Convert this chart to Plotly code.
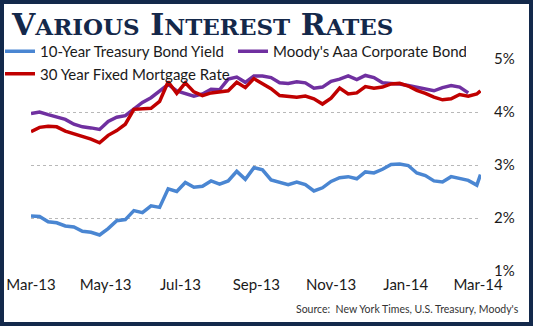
import datetime as dt
import plotly.graph_objects as go

start = dt.date(2013, 3, 1)
dates = [(start + dt.timedelta(weeks=i)).isoformat() for i in range(53)] + ["2014-03-03"]

treasury = [2.04, 2.03, 1.93, 1.91, 1.85, 1.83, 1.75, 1.73, 1.68, 1.80,
            1.95, 1.97, 2.14, 2.10, 2.23, 2.20, 2.55, 2.50, 2.67, 2.58,
            2.60, 2.70, 2.64, 2.70, 2.88, 2.73, 2.95, 2.91, 2.72, 2.67,
            2.63, 2.68, 2.63, 2.51, 2.57, 2.69, 2.76, 2.78, 2.74, 2.87,
            2.85, 2.92, 3.01, 3.02, 2.99, 2.85, 2.80, 2.70, 2.68, 2.78,
            2.75, 2.71, 2.62, 2.82]

moodys = [3.97, 4.00, 3.95, 3.90, 3.86, 3.77, 3.72, 3.70, 3.67, 3.82,
          3.90, 3.93, 4.06, 4.18, 4.27, 4.40, 4.52, 4.40, 4.35, 4.30,
          4.34, 4.43, 4.42, 4.62, 4.66, 4.56, 4.68, 4.68, 4.65, 4.55,
          4.54, 4.57, 4.55, 4.45, 4.47, 4.58, 4.62, 4.68, 4.61, 4.69,
          4.65, 4.55, 4.54, 4.53, 4.50, 4.47, 4.44, 4.40, 4.46, 4.50,
          4.47, 4.36]

mortgage = [3.63, 3.71, 3.73, 3.72, 3.64, 3.59, 3.55, 3.49, 3.42, 3.56,
            3.65, 3.77, 4.05, 4.06, 4.07, 4.20, 4.57, 4.35, 4.55, 4.38,
            4.31, 4.36, 4.38, 4.40, 4.56, 4.46, 4.63, 4.53, 4.44, 4.31,
            4.30, 4.28, 4.30, 4.25, 4.15, 4.26, 4.45, 4.34, 4.36, 4.48,
            4.45, 4.47, 4.53, 4.54, 4.49, 4.41, 4.35, 4.28, 4.23, 4.25,
            4.33, 4.30, 4.34, 4.40]

tick_dates = ["2013-03-01", "2013-05-01", "2013-07-01", "2013-09-01",
              "2013-11-01", "2014-01-01", "2014-03-01"]
tick_labels = ["Mar-13", "May-13", "Jul-13", "Sep-13", "Nov-13", "Jan-14", "Mar-14"]
y_ticks = [1, 2, 3, 4, 5]
y_labels = ["1%", "2%", "3%", "4%", "5%"]

W, H = 533, 326
L, R, T, B = 31, 52, 59, 55
pw, ph = W - L - R, H - T - B

def px(x):
    return (x - L) / pw

def py(y):
    return 1 - (y - T) / ph

fig = go.Figure()
fig.add_trace(go.Scatter(x=dates, y=treasury, mode="lines", name="10-Year Treasury Bond Yield",
                         line=dict(color="#4A86D2", width=3.5)))
fig.add_trace(go.Scatter(x=dates[:len(moodys)], y=moodys, mode="lines", name="Moody's Aaa Corporate Bond",
                         line=dict(color="#7030A0", width=3.5)))
fig.add_trace(go.Scatter(x=dates, y=mortgage, mode="lines", name="30 Year Fixed Mortgage Rate",
                         line=dict(color="#C00000", width=3.5)))

small = "<span style='font-size:23px'>"
title = ("V" + small + "ARIOUS</span> I" + small + "NTEREST</span> R" + small + "ATES</span>")

fig.update_layout(
    width=W, height=H,
    margin=dict(l=L, r=R, t=T, b=B, autoexpand=False),
    paper_bgcolor="white", plot_bgcolor="white",
    font=dict(family="Lato", size=15, color="#1a1a1a"),
    title=dict(text=title, xref="container", yref="container", x=12 / W, xanchor="left",
               y=1 - 24 / H, yanchor="middle",
               font=dict(family="DejaVu Serif", size=30, color="#14284A", weight="bold")),
    showlegend=True,
    legend=dict(orientation="h", x=px(0), xanchor="left", y=py(35), yanchor="top",
                entrywidth=188, entrywidthmode="pixels", bgcolor="rgba(0,0,0,0)",
                font=dict(family="Lato", size=15, color="#1a1a1a"), traceorder="normal",
                itemwidth=30),
    xaxis=dict(type="date", range=["2013-03-01", "2014-03-03T10:00"], tickvals=tick_dates,
               ticktext=tick_labels, showgrid=False, zeroline=False, showline=False,
               tickfont=dict(family="Lato", size=15, color="#1a1a1a"), ticks="",
               ticklabelstandoff=3),
    yaxis=dict(range=[1, 5], tickvals=y_ticks, ticktext=y_labels, side="right",
               showgrid=True, gridcolor="#b8b8b8", griddash="dot", gridwidth=1,
               zeroline=False, showline=False, ticks="", ticklabelstandoff=12,
               tickfont=dict(family="Lato", size=15, color="#1a1a1a")),
    shapes=[dict(type="rect", xref="paper", yref="paper",
                 x0=px(2), x1=px(W - 2), y0=py(H - 2), y1=py(2),
                 line=dict(color="#13294B", width=4), fillcolor="rgba(0,0,0,0)", layer="above")],
    annotations=[dict(text="Source:  New York Times, U.S. Treasury, Moody's", xref="paper", yref="paper",
                      x=px(521), y=py(309), xanchor="right", yanchor="middle", showarrow=False,
                      font=dict(family="Lato", size=10.5, color="#333333"))],
)

fig.write_html("out.html")
